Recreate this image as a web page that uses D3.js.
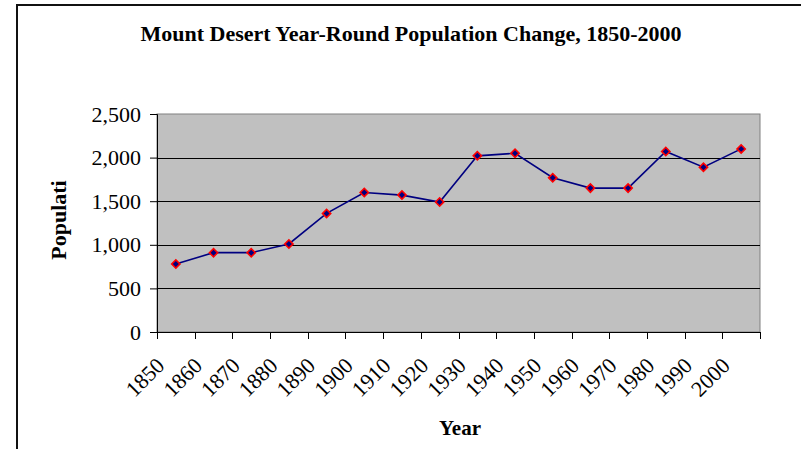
<!DOCTYPE html>
<html>
<head>
<meta charset="utf-8">
<script src="https://cdn.jsdelivr.net/npm/d3@7/dist/d3.min.js"></script>
<style>
  html, body { margin: 0; padding: 0; background: #fff; }
  svg { display: block; }
  text { font-family: "Liberation Serif", "Times New Roman", serif; fill: #000; }
</style>
</head>
<body>
<svg id="chart" width="801" height="449"></svg>
<script>
// Year-round population of Mount Desert, by census decade
const years = ["1850", "1860", "1870", "1880", "1890", "1900", "1910", "1920",
               "1930", "1940", "1950", "1960", "1970", "1980", "1990", "2000"];
const population = [780, 910, 910, 1010, 1360, 1600, 1570, 1490,
                    2020, 2050, 1770, 1650, 1650, 2070, 1890, 2100];
const yTicks = [0, 500, 1000, 1500, 2000, 2500];

const chartTitle = "Mount Desert Year-Round Population Change, 1850-2000";
const xTitle = "Year";
const yTitle = "Populati";

const svg = d3.select("#chart");
const plot = { left: 157, right: 760, top: 114, bottom: 332 };

// outer chart frame
svg.append("rect")
  .attr("x", 17).attr("y", 5).attr("width", 820).attr("height", 480)
  .attr("fill", "#fff").attr("stroke", "#111").attr("stroke-width", 2);

const x = d3.scaleBand().domain(years).range([plot.left, plot.right]).padding(0);
const y = d3.scaleLinear().domain([0, 2500]).range([plot.bottom, plot.top]);

// plot area
svg.append("rect")
  .attr("x", plot.left).attr("y", plot.top)
  .attr("width", plot.right - plot.left).attr("height", plot.bottom - plot.top)
  .attr("fill", "#c0c0c0").attr("stroke", "#808080").attr("stroke-width", 1);

// horizontal gridlines
svg.append("g").selectAll("line")
  .data(yTicks.filter(v => v > 0 && v < 2500))
  .join("line")
  .attr("x1", plot.left).attr("x2", plot.right)
  .attr("y1", d => Math.round(y(d)) + 0.5).attr("y2", d => Math.round(y(d)) + 0.5)
  .attr("stroke", "#000").attr("stroke-width", 1);

// y axis
const yAxis = svg.append("g")
  .attr("transform", `translate(${plot.left},0)`)
  .call(d3.axisLeft(y).tickValues(yTicks).tickFormat(d3.format(",")).tickSize(7).tickPadding(9));
yAxis.select(".domain").attr("stroke", "#000");
yAxis.selectAll(".tick line").attr("stroke", "#000");
yAxis.selectAll(".tick text")
  .style("font-family", "'Liberation Serif', 'Times New Roman', serif")
  .style("font-size", "22px").attr("fill", "#000");

// x axis: tick marks on category boundaries
const edges = years.map(d => x(d)).concat([plot.right]);
svg.append("line")
  .attr("x1", plot.left).attr("x2", plot.right)
  .attr("y1", plot.bottom + 0.5).attr("y2", plot.bottom + 0.5)
  .attr("stroke", "#000");
svg.append("g").selectAll("line")
  .data(edges)
  .join("line")
  .attr("x1", d => Math.round(d) + 0.5).attr("x2", d => Math.round(d) + 0.5)
  .attr("y1", plot.bottom).attr("y2", plot.bottom + 7)
  .attr("stroke", "#000");

// rotated category labels
const cx = d => x(d) + x.bandwidth() / 2;
svg.append("g").selectAll("text")
  .data(years)
  .join("text")
  .attr("transform", d => `translate(${cx(d) - 10},${plot.bottom + 35}) rotate(-45)`)
  .attr("text-anchor", "end")
  .style("font-size", "22px")
  .text(d => d);

// series line
svg.append("path")
  .datum(population)
  .attr("fill", "none")
  .attr("stroke", "#000080")
  .attr("stroke-width", 1.6)
  .attr("d", d3.line().x((d, i) => cx(years[i])).y(d => y(d)));

// diamond markers
svg.append("g").selectAll("path")
  .data(population)
  .join("path")
  .attr("transform", (d, i) => `translate(${cx(years[i])},${y(d)}) rotate(45)`)
  .attr("d", d3.symbol().type(d3.symbolSquare).size(34))
  .attr("fill", "#000080")
  .attr("stroke", "#ff0000")
  .attr("stroke-width", 1.6);

// titles
svg.append("text")
  .attr("x", 411).attr("y", 41)
  .attr("text-anchor", "middle")
  .style("font-size", "22px").style("font-weight", "bold")
  .text(chartTitle);

svg.append("text")
  .attr("x", 460).attr("y", 435)
  .attr("text-anchor", "middle")
  .style("font-size", "21px").style("font-weight", "bold")
  .text(xTitle);

svg.append("text")
  .attr("transform", "translate(66,220) rotate(-90)")
  .attr("text-anchor", "middle")
  .style("font-size", "22px").style("font-weight", "bold")
  .text(yTitle);
</script>
</body>
</html>
